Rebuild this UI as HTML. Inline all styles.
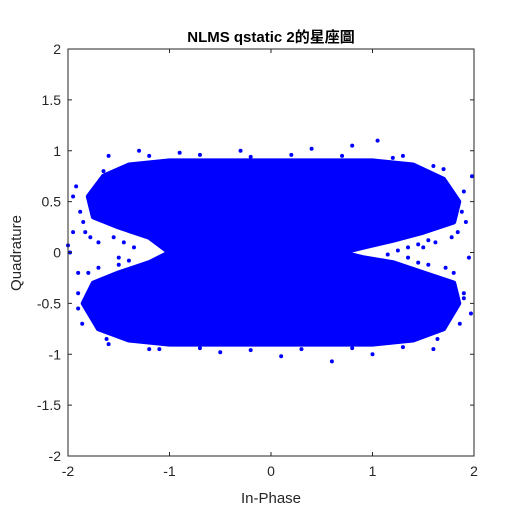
<!DOCTYPE html>
<html><head><meta charset="utf-8"><style>
body{margin:0;background:#fff;}
svg text{font-family:"Liberation Sans","Noto Sans CJK TC",sans-serif;fill:#262626;}
</style></head><body>
<svg id="chart" width="525" height="525" xmlns="http://www.w3.org/2000/svg">
<rect width="525" height="525" fill="#fff"/>
<text x="271" y="42" text-anchor="middle" font-size="15" font-weight="bold" style="fill:#000">NLMS qstatic 2的星座圖</text>
<g id="plot"></g>
<text x="271" y="503" text-anchor="middle" font-size="15">In-Phase</text>
<text transform="translate(21,253) rotate(-90)" text-anchor="middle" font-size="15">Quadrature</text>
</svg>
<script>
const xTicks=[-2,-1,0,1,2];
const yTicks=[-2,-1.5,-1,-0.5,0,0.5,1,1.5,2];
const cloudX=[-1.8,-1.65,-1.4,-1,0,1,1.4,1.7,1.85,1.8,1.5,1.2,0.9,0.7,0.9,1.2,1.5,1.8,1.85,1.7,1.4,1,0,-1,-1.4,-1.7,-1.85,-1.75,-1.5,-1.2,-1.0,-1.2,-1.5,-1.75];
const cloudY=[0.55,0.75,0.86,0.9,0.9,0.9,0.86,0.72,0.5,0.3,0.2,0.12,0.05,0.0,-0.05,-0.1,-0.2,-0.3,-0.5,-0.75,-0.86,-0.9,-0.9,-0.9,-0.86,-0.75,-0.5,-0.3,-0.2,-0.1,0.0,0.15,0.25,0.35];
const outX=[-1.95,-1.98,-1.9,-1.85,-1.6,-1.3,-0.9,-0.3,0.4,0.8,1.05,1.3,1.6,1.9,1.95,1.97,1.9,1.6,1.0,0.6,-0.5,-1.1,-1.6,-1.9,-1.95,-2.0,1.98,1.5,-1.5,0.1,
 -1.88,-1.92,-1.83,-1.78,-1.7,-1.65,-1.55,-1.45,-1.35,-1.9,-1.86,-1.8,-1.7,-1.62,-1.5,-1.4,
 1.88,1.92,1.84,1.78,1.7,1.62,1.55,1.45,1.35,1.25,1.9,1.86,1.8,1.72,1.64,1.55,1.45,1.35,1.15,
 -1.2,-0.7,-0.2,0.2,0.7,1.2,-1.2,-0.7,-0.2,0.3,0.8,1.3];
const outY=[0.55,0.0,-0.55,0.3,0.95,1.0,0.98,1.0,1.02,1.05,1.1,0.95,0.85,0.6,-0.05,-0.6,-0.4,-0.95,-1.0,-1.07,-0.98,-0.95,-0.9,-0.2,0.2,0.07,0.75,0.05,-0.05,-1.02,
 0.4,0.65,0.2,0.15,0.1,0.8,0.15,0.1,0.05,-0.4,-0.7,-0.2,-0.15,-0.85,-0.12,-0.08,
 0.4,0.3,0.2,0.15,0.82,0.1,0.12,0.08,0.05,0.02,-0.45,-0.7,-0.2,-0.15,-0.85,-0.12,-0.1,-0.05,-0.02,
 0.95,0.96,0.94,0.96,0.95,0.93,-0.95,-0.94,-0.96,-0.95,-0.94,-0.93];
const L=68,R=474,T=49,B=456;
const sx=v=>L+(v+2)/4*(R-L), sy=v=>B-(v+2)/4*(B-T);
const NS="http://www.w3.org/2000/svg";
const g=document.getElementById('plot');
function mk(t,a){const e=document.createElementNS(NS,t);for(const k in a)e.setAttribute(k,a[k]);g.appendChild(e);return e;}
const ax=mk('rect',{x:L,y:T,width:R-L,height:B-T,fill:'#fff',stroke:'#262626','stroke-width':1});


const poly=mk('polygon',{points:cloudX.map((x,i)=>sx(x)+','+sy(cloudY[i])).join(' '),fill:'#0000ff',stroke:'#0000ff','stroke-width':5,'stroke-linejoin':'round'});


outX.forEach((x,i)=>{const c=mk('circle',{cx:sx(x),cy:sy(outY[i]),r:2,fill:'#0000ff'});

});
mk('rect',{x:L,y:T,width:R-L,height:B-T,fill:'none',stroke:'#262626','stroke-width':1});
xTicks.forEach(v=>{const x=sx(v);
mk('line',{x1:x,x2:x,y1:B,y2:B-4,stroke:'#262626'});mk('line',{x1:x,x2:x,y1:T,y2:T+4,stroke:'#262626'});
const t=mk('text',{x:x,y:B+20,'text-anchor':'middle','font-size':14});t.textContent=v;

});
yTicks.forEach(v=>{const y=sy(v);
mk('line',{x1:L,x2:L+4,y1:y,y2:y,stroke:'#262626'});mk('line',{x1:R,x2:R-4,y1:y,y2:y,stroke:'#262626'});
const t=mk('text',{x:L-7,y:y+5,'text-anchor':'end','font-size':14});t.textContent=v;

});
</script>
</body></html>
